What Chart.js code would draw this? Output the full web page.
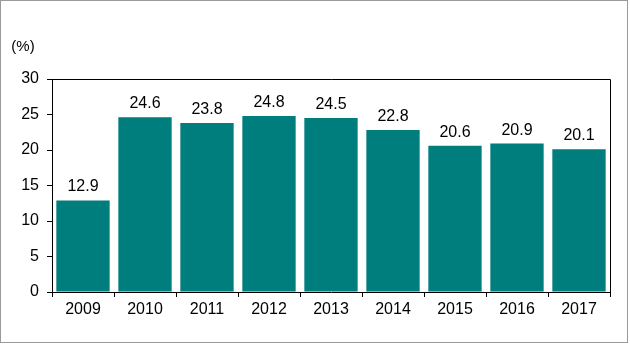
<!DOCTYPE html>
<html>
<head>
<meta charset="utf-8">
<script src="https://cdn.jsdelivr.net/npm/chart.js@4.4.0/dist/chart.umd.min.js"></script>
<style>
  body { margin: 0; background: #fff; }
  #wrap { width: 630px; height: 346px; }
</style>
</head>
<body>
<div id="wrap"><canvas id="chart" width="630" height="346"></canvas></div>
<script>
// categories and values
const years = ["2009", "2010", "2011", "2012", "2013", "2014", "2015", "2016", "2017"];
const shares = [12.9, 24.6, 23.8, 24.8, 24.5, 22.8, 20.6, 20.9, 20.1];
const yTicks = [0, 5, 10, 15, 20, 25, 30];

const FONT = "'Liberation Sans', Arial, sans-serif";

// frame, box around plot, unit label and value labels
const extras = {
    id: "extras",
    afterDraw(chart) {
        const ctx = chart.ctx;
        const a = chart.chartArea;
        ctx.save();
        ctx.strokeStyle = "#000";
        ctx.lineWidth = 1;
        ctx.beginPath();
        ctx.moveTo(a.left, Math.round(a.top) + 0.5);
        ctx.lineTo(Math.round(a.right) + 0.5, Math.round(a.top) + 0.5);
        ctx.lineTo(Math.round(a.right) + 0.5, a.bottom);
        ctx.stroke();
        // tick at right end of x axis
        ctx.beginPath();
        ctx.moveTo(Math.round(a.right) + 0.5, a.bottom);
        ctx.lineTo(Math.round(a.right) + 0.5, a.bottom + 5);
        ctx.stroke();

        ctx.strokeStyle = "#9a9a9a";
        ctx.strokeRect(0.5, 0.5, 627, 342);

        ctx.fillStyle = "#000";
        ctx.font = "15px " + FONT;
        ctx.textAlign = "center";
        ctx.textBaseline = "middle";
        ctx.fillText("(%)", 23, 47);

        ctx.font = "16px " + FONT;
        ctx.textBaseline = "alphabetic";
        const meta = chart.getDatasetMeta(0);
        meta.data.forEach((bar, i) => {
            ctx.fillText(shares[i].toFixed(1), bar.x, bar.y - 9);
        });
        ctx.restore();
    }
};

const ctx = document.getElementById("chart").getContext("2d");
new Chart(ctx, {
    type: "bar",
    data: {
        labels: years,
        datasets: [{
            data: shares,
            backgroundColor: "#007d7d",
            borderWidth: 0,
            barPercentage: 0.86,
            categoryPercentage: 1.0
        }]
    },
    options: {
        responsive: false,
        animation: false,
        layout: { padding: { top: 79, right: 20, left: 0, bottom: 0 } },
        plugins: { legend: { display: false }, tooltip: { enabled: false } },
        scales: {
            x: {
                afterFit(scale) { scale.height = 54; },
                grid: { display: true, drawOnChartArea: false, tickLength: 5, color: "#000", offset: true },
                border: { display: true, color: "#000", width: 1 },
                ticks: { color: "#000", font: { family: FONT, size: 16 }, padding: 3 }
            },
            y: {
                min: 0,
                max: 30,
                afterFit(scale) { scale.width = 52; },
                afterBuildTicks(scale) { scale.ticks = yTicks.map(v => ({ value: v })); },
                grid: { display: true, drawOnChartArea: false, tickLength: 5, color: "#000" },
                border: { display: true, color: "#000", width: 1 },
                ticks: { color: "#000", font: { family: FONT, size: 16 }, padding: 8 }
            }
        }
    },
    plugins: [extras]
});
</script>
</body>
</html>
